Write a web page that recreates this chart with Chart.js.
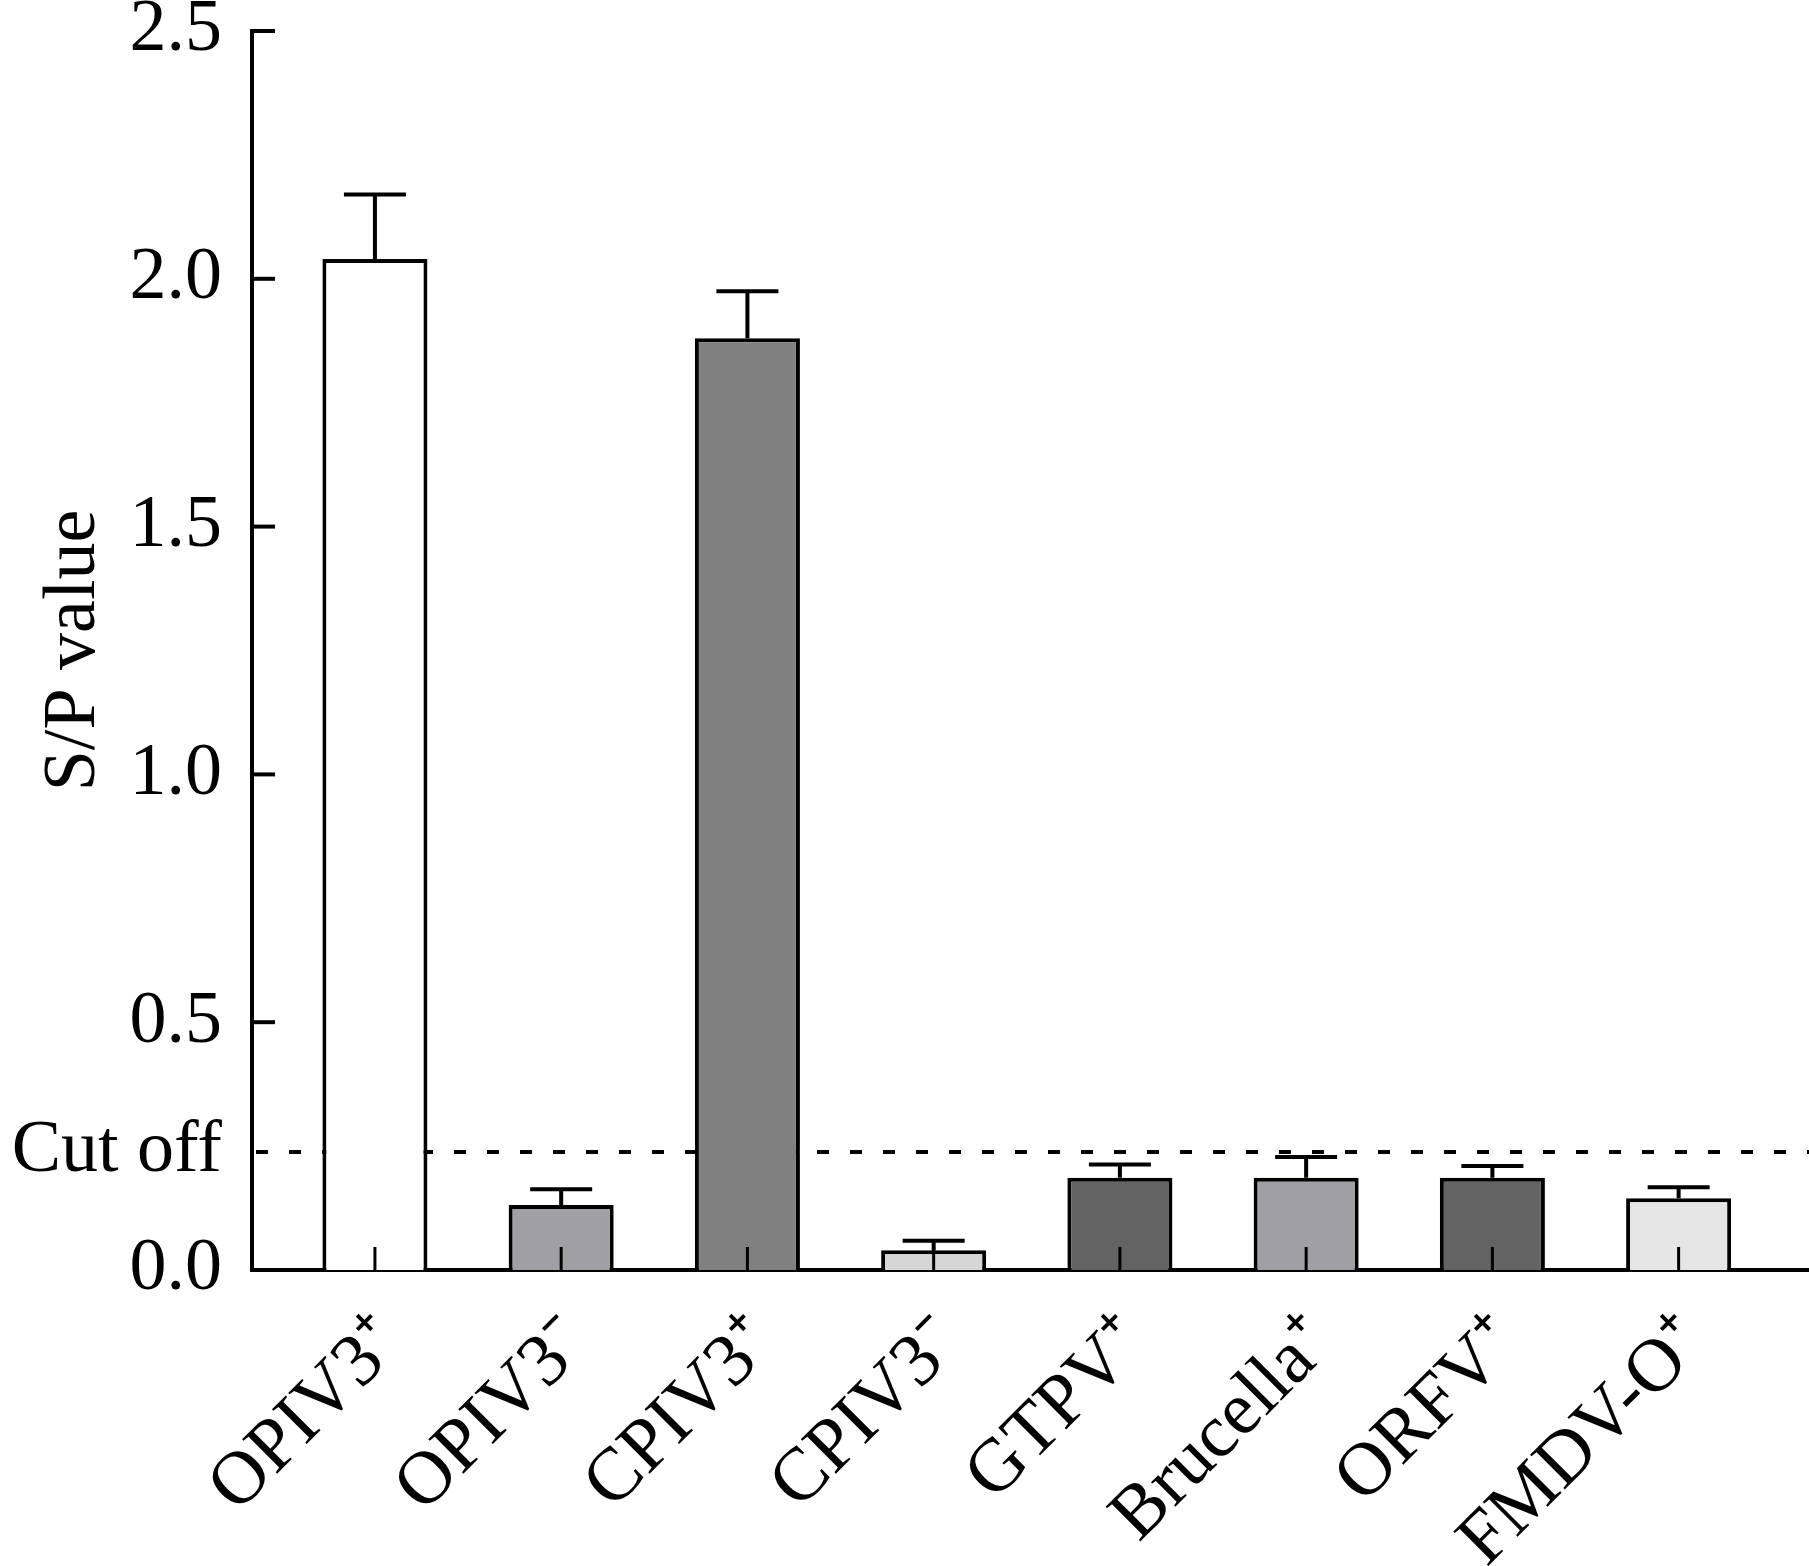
<!DOCTYPE html>
<html>
<head>
<meta charset="utf-8">
<script src="https://cdn.jsdelivr.net/npm/chart.js@4.4.0/dist/chart.umd.min.js"></script>
<style>
  body { margin: 0; background: #fff; }
  #wrap { width: 1809px; height: 1566px; }
</style>
</head>
<body>
<div id="wrap"><canvas id="sp"></canvas></div>
<script>
// data
var groups = ['OPIV3\u207A', 'OPIV3\u207B', 'CPIV3\u207A', 'CPIV3\u207B', 'GTPV\u207A', 'Brucella\u207A', 'ORFV\u207A', 'FMDV-O\u207A'];
var spValues = [2.04, 0.131, 1.88, 0.040, 0.186, 0.186, 0.186, 0.145];
var spErrors = [0.13, 0.032, 0.095, 0.019, 0.027, 0.042, 0.024, 0.022];
var barColors = ['#ffffff', '#a0a0a4', '#808080', '#d6d6d6', '#636363', '#a0a0a4', '#636363', '#e6e6e6'];
var yTicks = [0, 0.5, 1.0, 1.5, 2.0, 2.5];
var cutOff = 0.238;

Chart.defaults.font.family = "'Liberation Serif', 'Times New Roman', serif";
Chart.defaults.color = '#000';

// dashed cut off line, behind the bars
var cutOffLine = {
    id: 'cutOffLine',
    beforeDatasetsDraw: function (chart) {
        var c = chart.ctx, a = chart.chartArea;
        var y = chart.scales.y.getPixelForValue(cutOff);
        c.save();
        c.strokeStyle = '#000';
        c.lineWidth = 4;
        c.setLineDash([12, 21]);
        c.beginPath();
        c.moveTo(a.left + 4, y);
        c.lineTo(a.right, y);
        c.stroke();
        c.restore();
    }
};

// inward ticks + error bars on top
var marks = {
    id: 'marks',
    afterDatasetsDraw: function (chart) {
        var c = chart.ctx, a = chart.chartArea;
        var xs = chart.scales.x, ys = chart.scales.y;
        var bars = chart.getDatasetMeta(0).data;
        c.save();
        c.strokeStyle = '#000';
        c.lineWidth = 4;
        // error bars (upper only)
        for (var i = 0; i < bars.length; i++) {
            var b = bars[i];
            var top = ys.getPixelForValue(spValues[i] + spErrors[i]);
            c.beginPath();
            c.moveTo(b.x, b.y);
            c.lineTo(b.x, top);
            c.moveTo(b.x - 31, top);
            c.lineTo(b.x + 31, top);
            c.stroke();
        }
        // x ticks pointing up
        c.lineWidth = 3;
        for (var j = 0; j < groups.length; j++) {
            var px = xs.getPixelForValue(j);
            c.beginPath();
            c.moveTo(px, a.bottom);
            c.lineTo(px, a.bottom - 23);
            c.stroke();
        }
        // y ticks pointing right
        c.lineWidth = 4;
        yTicks.forEach(function (v) {
            var py = ys.getPixelForValue(v);
            c.beginPath();
            c.moveTo(a.left, py);
            c.lineTo(a.left + 23, py);
            c.stroke();
        });
        c.restore();
    }
};

new Chart(document.getElementById('sp'), {
    type: 'bar',
    data: {
        datasets: [{
            data: spValues.map(function (v, i) { return { x: i, y: v }; }),
            backgroundColor: barColors,
            borderColor: '#000',
            borderWidth: 4,
            barPercentage: 0.564,
            categoryPercentage: 1.0
        }]
    },
    options: {
        responsive: true,
        maintainAspectRatio: false,
        devicePixelRatio: 1,
        animation: false,
        layout: { padding: { top: 31, right: 0, bottom: 0, left: 0 } },
        plugins: {
            legend: { display: false },
            tooltip: { enabled: false }
        },
        scales: {
            x: {
                type: 'linear',
                offset: false,
                min: -0.66,
                max: 7.70,
                grid: { display: false, drawTicks: false },
                border: { display: true, color: '#000', width: 4 },
                afterBuildTicks: function (axis) {
                    axis.ticks = groups.map(function (g, i) { return { value: i }; });
                },
                afterFit: function (scale) {
                    scale.height = 296;
                    scale.paddingLeft = 0;
                    scale.paddingRight = 0;
                    scale.paddingTop = 0;
                    scale.paddingBottom = 0;
                },
                ticks: {
                    autoSkip: false,
                    minRotation: 45,
                    maxRotation: 45,
                    padding: 30,
                    labelOffset: 16,
                    font: { size: 75 },
                    callback: function (value) { return groups[value]; }
                }
            },
            y: {
                min: 0,
                max: 2.5,
                grid: { display: false, drawTicks: false },
                border: { display: true, color: '#000', width: 4 },
                afterBuildTicks: function (axis) {
                    axis.ticks = [{ value: 0 }, { value: cutOff }].concat(
                        yTicks.slice(1).map(function (v) { return { value: v }; }));
                },
                afterFit: function (scale) {
                    scale.width = 252;
                    scale.paddingTop = 0;
                    scale.paddingBottom = 0;
                },
                ticks: {
                    autoSkip: false,
                    padding: 30,
                    font: { size: 74, lineHeight: 0.8 },
                    callback: function (value) {
                        return value === cutOff ? 'Cut off' : value.toFixed(1);
                    }
                },
                title: {
                    display: true,
                    text: 'S/P value',
                    font: { size: 74 },
                    padding: { top: 30, bottom: 0 }
                }
            }
        }
    },
    plugins: [cutOffLine, marks]
});
</script>
</body>
</html>
